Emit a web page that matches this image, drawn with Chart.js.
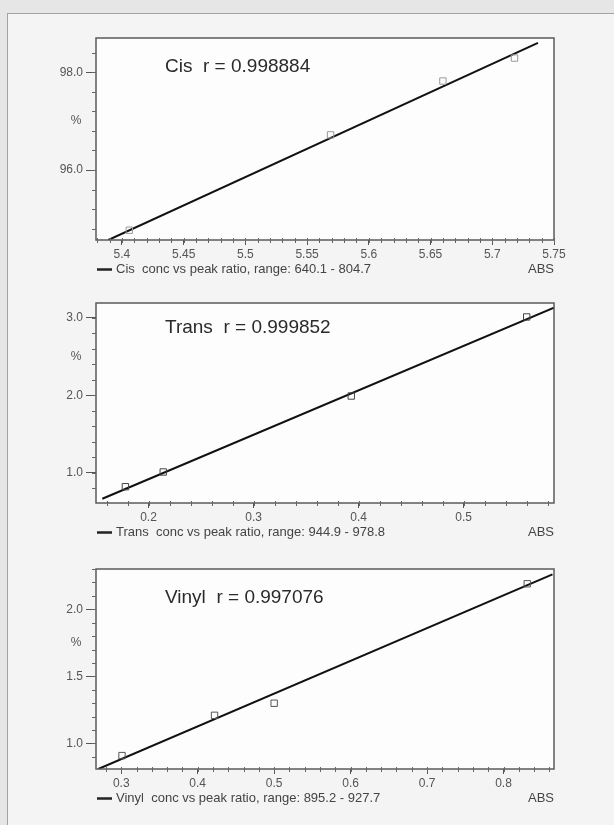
<!DOCTYPE html>
<html lang="en">

<head>
    <meta charset="UTF-8">
    <title>Calibration plots</title>
    <style>
        * {
            margin: 0;
            padding: 0;
        }

        body {
            background: #e6e6e6;
            width: 614px;
            height: 825px;
            overflow: hidden;
            position: relative;
        }

        .frame {
            position: absolute;
            left: 7px;
            top: 13px;
            width: 620px;
            height: 830px;
            border: 1px solid #a3a3a3;
            background: #f4f4f4;
        }

        canvas {
            position: absolute;
            left: 0;
        }
    </style>
</head>

<body>
    <div class="frame"></div>
    <canvas id="cisChart" width="614" height="280" style="top:0px"></canvas>
    <canvas id="transChart" width="614" height="265" style="top:280px"></canvas>
    <canvas id="vinylChart" width="614" height="280" style="top:545px"></canvas>
</body>
<script src="https://cdn.jsdelivr.net/npm/chart.js@4.4.1/dist/chart.umd.min.js"></script>

<script>
    // values (ABS on x, % on y)
    const cisAbs = [5.406, 5.569, 5.660, 5.718];
    const cisConc = [94.77, 96.72, 97.82, 98.29];
    const cisFitAbs = [5.389, 5.737];
    const cisFitConc = [94.57, 98.60];
    const cisXTicks = [5.4, 5.45, 5.5, 5.55, 5.6, 5.65, 5.7, 5.75];
    const cisYTicks = [96, 98];

    const transAbs = [0.178, 0.214, 0.393, 0.560];
    const transConc = [0.82, 1.01, 1.99, 3.01];
    const transFitAbs = [0.156, 0.586];
    const transFitConc = [0.665, 3.13];
    const transXTicks = [0.2, 0.3, 0.4, 0.5];
    const transYTicks = [1, 2, 3];

    const vinylAbs = [0.301, 0.422, 0.500, 0.831];
    const vinylConc = [0.91, 1.21, 1.30, 2.19];
    const vinylFitAbs = [0.270, 0.864];
    const vinylFitConc = [0.81, 2.26];
    const vinylXTicks = [0.3, 0.4, 0.5, 0.6, 0.7, 0.8];
    const vinylYTicks = [1.0, 1.5, 2.0];

    const FONT = "'Liberation Sans', Arial, sans-serif";

    const toXY = (xs, ys) => xs.map((x, i) => ({ x: x, y: ys[i] }));

    // white plot area, box frame, minor ticks and all the extra texts
    const panelPlugin = {
        id: 'panel',
        beforeDraw(chart) {
            const a = chart.chartArea;
            const ctx = chart.ctx;
            ctx.save();
            ctx.fillStyle = '#fdfdfd';
            ctx.fillRect(a.left, a.top, a.right - a.left, a.bottom - a.top);
            ctx.restore();
        },
        afterDraw(chart, args, opts) {
            const a = chart.chartArea;
            const ctx = chart.ctx;
            const xs = chart.scales.x;
            const ys = chart.scales.y;
            ctx.save();

            // frame
            ctx.strokeStyle = '#5a5a5a';
            ctx.lineWidth = 1.5;
            ctx.strokeRect(a.left, a.top, a.right - a.left, a.bottom - a.top);

            // minor ticks
            ctx.lineWidth = 1;
            ctx.strokeStyle = '#666';
            ctx.beginPath();
            for (let k = Math.ceil(ys.min / opts.yMinor - 1e-6); k * opts.yMinor <= ys.max + 1e-9; k++) {
                const py = Math.round(ys.getPixelForValue(k * opts.yMinor)) + 0.5;
                ctx.moveTo(a.left - 4, py);
                ctx.lineTo(a.left, py);
            }
            for (let k = Math.ceil(xs.min / opts.xMinor - 1e-6); k * opts.xMinor <= xs.max + 1e-9; k++) {
                const px = Math.round(xs.getPixelForValue(k * opts.xMinor)) + 0.5;
                ctx.moveTo(px, a.bottom - 2);
                ctx.lineTo(px, a.bottom + 3);
            }
            ctx.stroke();

            // r value inside the plot
            ctx.fillStyle = '#2a2a2a';
            ctx.font = '19px ' + FONT;
            ctx.textBaseline = 'middle';
            ctx.textAlign = 'left';
            ctx.fillText(opts.title, a.left + 69, a.top + opts.titleDy);

            // % between the two top major ticks
            const yt = opts.yTicks;
            const mid = (yt[yt.length - 1] + yt[yt.length - 2]) / 2;
            ctx.fillStyle = '#555';
            ctx.font = '12px ' + FONT;
            ctx.textAlign = 'center';
            ctx.fillText('%', a.left - 20, ys.getPixelForValue(mid));

            // legend row + ABS
            const ly = a.bottom + 29.5;
            ctx.strokeStyle = '#222';
            ctx.lineWidth = 2.5;
            ctx.beginPath();
            ctx.moveTo(a.left + 1, ly);
            ctx.lineTo(a.left + 16, ly);
            ctx.stroke();
            ctx.fillStyle = '#444';
            ctx.font = '13px ' + FONT;
            ctx.textAlign = 'left';
            ctx.fillText(chart.data.datasets[0].label, a.left + 20, ly);
            ctx.textAlign = 'right';
            ctx.fillText('ABS', a.right, ly);
            ctx.restore();
        }
    };

    function makeChart(id, o) {
        return new Chart(id, {
            type: 'scatter',
            data: {
                datasets: [{
                    label: o.legend,
                    data: toXY(o.fitX, o.fitY),
                    showLine: true,
                    borderColor: '#111',
                    borderWidth: 2,
                    pointRadius: 0,
                    order: 1
                }, {
                    label: 'points',
                    data: toXY(o.x, o.y),
                    pointStyle: 'rect',
                    pointRadius: 4.5,
                    borderWidth: 1,
                    borderColor: o.pointColor,
                    backgroundColor: 'rgba(0,0,0,0)',
                    order: 0
                }]
            },
            options: {
                responsive: false,
                animation: false,
                layout: {
                    padding: { left: 0, right: 60, top: o.padTop, bottom: o.padBottom }
                },
                plugins: {
                    legend: { display: false },
                    tooltip: { enabled: false },
                    panel: {
                        title: o.title,
                        titleDy: o.titleDy,
                        yTicks: o.yTicks,
                        xMinor: o.xMinor,
                        yMinor: o.yMinor
                    }
                },
                scales: {
                    x: {
                        type: 'linear',
                        min: o.xMin,
                        max: o.xMax,
                        afterBuildTicks: s => { s.ticks = o.xTicks.map(v => ({ value: v })); },
                        afterFit: s => { s.height = 20; },
                        ticks: {
                            callback: v => String(v),
                            color: '#555',
                            font: { family: FONT, size: 12 },
                            padding: 2,
                            maxRotation: 0,
                            autoSkip: false
                        },
                        grid: { drawOnChartArea: false, tickLength: 5, color: '#555' },
                        border: { display: false }
                    },
                    y: {
                        type: 'linear',
                        min: o.yMin,
                        max: o.yMax,
                        afterBuildTicks: s => { s.ticks = o.yTicks.map(v => ({ value: v })); },
                        afterFit: s => { s.width = 96; },
                        ticks: {
                            callback: v => v.toFixed(1),
                            color: '#555',
                            font: { family: FONT, size: 12 },
                            padding: 3,
                            autoSkip: false
                        },
                        grid: { drawOnChartArea: false, tickLength: 10, color: '#555' },
                        border: { display: false }
                    }
                }
            },
            plugins: [panelPlugin]
        });
    }

    makeChart('cisChart', {
        x: cisAbs, y: cisConc, fitX: cisFitAbs, fitY: cisFitConc,
        xTicks: cisXTicks, yTicks: cisYTicks,
        xMin: 5.379, xMax: 5.75, yMin: 94.57, yMax: 98.70,
        xMinor: 0.01, yMinor: 0.4,
        title: 'Cis  r = 0.998884', titleDy: 29,
        legend: 'Cis  conc vs peak ratio, range: 640.1 - 804.7',
        pointColor: '#9a9a9a', padTop: 38, padBottom: 20
    });

    makeChart('transChart', {
        x: transAbs, y: transConc, fitX: transFitAbs, fitY: transFitConc,
        xTicks: transXTicks, yTicks: transYTicks,
        xMin: 0.150, xMax: 0.586, yMin: 0.61, yMax: 3.19,
        xMinor: 0.02, yMinor: 0.2,
        title: 'Trans  r = 0.999852', titleDy: 25,
        legend: 'Trans  conc vs peak ratio, range: 944.9 - 978.8',
        pointColor: '#444', padTop: 23, padBottom: 22
    });

    makeChart('vinylChart', {
        x: vinylAbs, y: vinylConc, fitX: vinylFitAbs, fitY: vinylFitConc,
        xTicks: vinylXTicks, yTicks: vinylYTicks,
        xMin: 0.267, xMax: 0.866, yMin: 0.81, yMax: 2.30,
        xMinor: 0.02, yMinor: 0.1,
        title: 'Vinyl  r = 0.997076', titleDy: 29,
        legend: 'Vinyl  conc vs peak ratio, range: 895.2 - 927.7',
        pointColor: '#555', padTop: 24, padBottom: 36
    });
</script>

</html>
